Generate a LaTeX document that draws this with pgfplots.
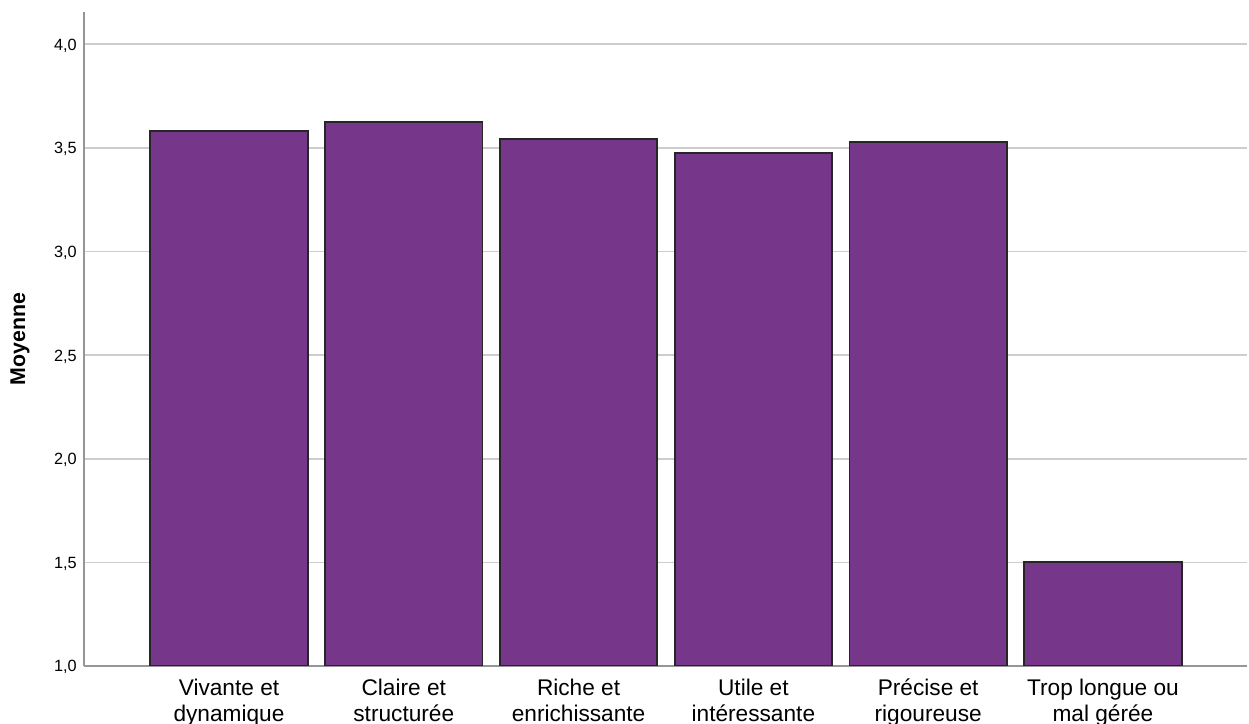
\documentclass[border=0pt]{standalone}
\usepackage{fontspec}
\setmainfont{Liberation Sans}
\usepackage{pgfplots}
\pgfplotsset{compat=1.18}

\definecolor{barfill}{RGB}{118,55,138}
\definecolor{gridgray}{RGB}{205,205,205}
\definecolor{axisgray}{RGB}{150,150,150}

\begin{document}
\begin{tikzpicture}[x=0.75pt,y=0.75pt]
\begin{axis}[
    at={(0,0)}, anchor=south west,
    scale only axis,
    width=872.25pt, height=490.5pt,
    xmin=-0.8295, xmax=5.824,
    ymin=1, ymax=4.155,
    axis x line=bottom, axis y line=left,
    axis line style={-, draw=axisgray, line width=1.2pt},
    ytick={1,1.5,...,4},
    ymajorgrids,
    grid style={draw=gridgray, line width=1.2pt},
    major tick length=0pt,
    xtick=data,
    xticklabels={{Vivante et\\dynamique},{Claire et\\structurée},{Riche et\\enrichissante},{Utile et\\intéressante},{Précise et\\rigoureuse},{Trop longue ou\\mal gérée}},
    xticklabel style={align=center, font=\fontsize{17}{19.5}\selectfont, yshift=-6pt},
    yticklabel style={font=\fontsize{12.2}{14}\selectfont, xshift=-2pt, yshift=-1pt},
    /pgf/number format/.cd, use comma, fixed, fixed zerofill, precision=1, assume math mode=true,
    /pgfplots/.cd,
    ylabel={Moyenne},
    ylabel style={at={(axis description cs:-0.055,0.5)}, anchor=center, font=\bfseries\fontsize{16}{18}\selectfont},
]
\addplot[ybar, bar width=0.9, fill=barfill, draw=black!85, line width=1.3pt] coordinates {
    (0,3.582) (1,3.625) (2,3.542) (3,3.476) (4,3.529) (5,1.500)
};
\end{axis}
\pgfresetboundingbox
\path (-84,-58) rectangle (1165,666);
\end{tikzpicture}
\end{document}
